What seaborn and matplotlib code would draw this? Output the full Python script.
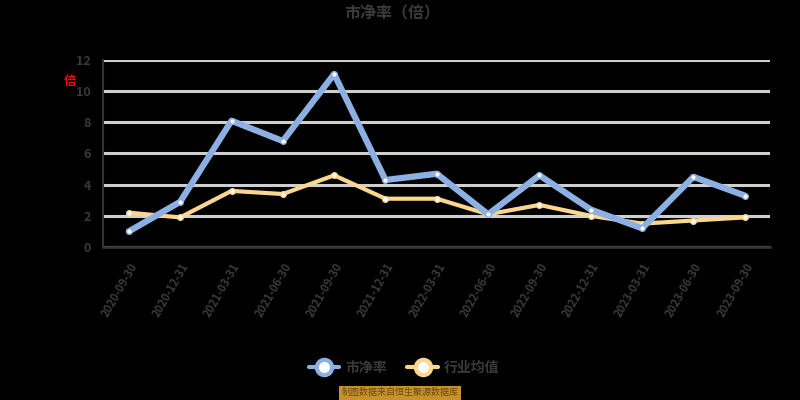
import numpy as np
import pandas as pd
import matplotlib
matplotlib.use("Agg")
import matplotlib.pyplot as plt
import seaborn as sns

# data
dates = ["2020-09-30", "2020-12-31", "2021-03-31", "2021-06-30", "2021-09-30",
         "2021-12-31", "2022-03-31", "2022-06-30", "2022-09-30", "2022-12-31",
         "2023-03-31", "2023-06-30", "2023-09-30"]
company = [1.0, 2.9, 8.1, 6.8, 11.1, 4.3, 4.7, 2.1, 4.6, 2.4, 1.2, 4.5, 3.3]
industry = [2.2, 1.9, 3.6, 3.4, 4.6, 3.1, 3.1, 2.1, 2.7, 2.0, 1.5, 1.7, 1.9]
series_names = ["市净率", "行业均值"]

sns.set_style("white")
plt.rcParams['font.family'] = ['Noto Sans CJK SC', 'DejaVu Sans']

df = pd.DataFrame({
    "date": dates * 2,
    "value": company + industry,
    "series": [series_names[0]] * len(dates) + [series_names[1]] * len(dates),
})

txt = "#3a3a3a"
palette = {series_names[0]: "#8db0e2", series_names[1]: "#fcd68f"}

fig = plt.figure(figsize=(8, 4), dpi=100, facecolor="black")
ax = fig.add_axes([0.129, 0.3825, 0.834, 0.4675])
ax.set_facecolor("black")

sns.lineplot(data=df, x="date", y="value", hue="series", palette=palette,
             sort=False, ax=ax, legend=False, zorder=3)
ax.lines[0].set_linewidth(4.5)
ax.lines[1].set_linewidth(3)
for ln in ax.lines:
    ln.set_marker("o")
    ln.set_markersize(4)
    ln.set_markerfacecolor("white")
    ln.set_markeredgecolor(ln.get_color())
    ln.set_markeredgewidth(1)
ax.lines[1].set_zorder(2)

ax.set_xlim(-0.5, len(dates) - 0.5)
ax.set_ylim(0, 12)
ax.set_yticks(range(0, 13, 2))
ax.yaxis.grid(True, color="#cfcfcf", linewidth=2.2, zorder=0)
ax.set_axisbelow(True)
ax.set_xlabel("")
ax.set_ylabel("")

for s in ["top", "right"]:
    ax.spines[s].set_visible(False)
ax.spines["left"].set_color("#333333")
ax.spines["left"].set_linewidth(1.5)
ax.spines["bottom"].set_color("#333333")
ax.spines["bottom"].set_linewidth(2)

ax.tick_params(axis="y", colors=txt, labelsize=9, length=4, width=1, pad=5)
ax.tick_params(axis="x", colors="#333333", labelcolor=txt, labelsize=8,
               length=4, width=3, pad=6)
plt.setp(ax.get_xticklabels(), rotation=60, ha="right", rotation_mode="anchor",
         fontweight="bold")
plt.setp(ax.get_yticklabels(), fontweight="bold")

# unit label in red, title
fig.text(0.088, 0.795, "倍", color="red", fontsize=9, ha="center", va="center",
         fontweight="bold")
fig.text(0.49, 0.97, "市净率（倍）", color=txt, fontsize=11.5, ha="center",
         va="center", fontweight="bold")

# legend
handles = [plt.Line2D([], [], color=palette[n], linewidth=3, marker="o",
                      markersize=11, markerfacecolor="white",
                      markeredgecolor=palette[n], markeredgewidth=3)
           for n in series_names]
leg = fig.legend(handles, series_names, loc="center", bbox_to_anchor=(0.505, 0.08),
                 ncol=2, frameon=False, fontsize=10, handlelength=2.2,
                 columnspacing=1.5, handletextpad=0.4)
for t in leg.get_texts():
    t.set_color(txt)
    t.set_fontweight("bold")

# source watermark
fig.text(0.5, 0.018, "制图数据来自恒生聚源数据库", color="#6b4a10", fontsize=6.5,
         ha="center", va="center",
         bbox=dict(boxstyle="square,pad=0.25", facecolor="#c8922a", edgecolor="none"))

fig.savefig("out.png", dpi=100, facecolor="black")
